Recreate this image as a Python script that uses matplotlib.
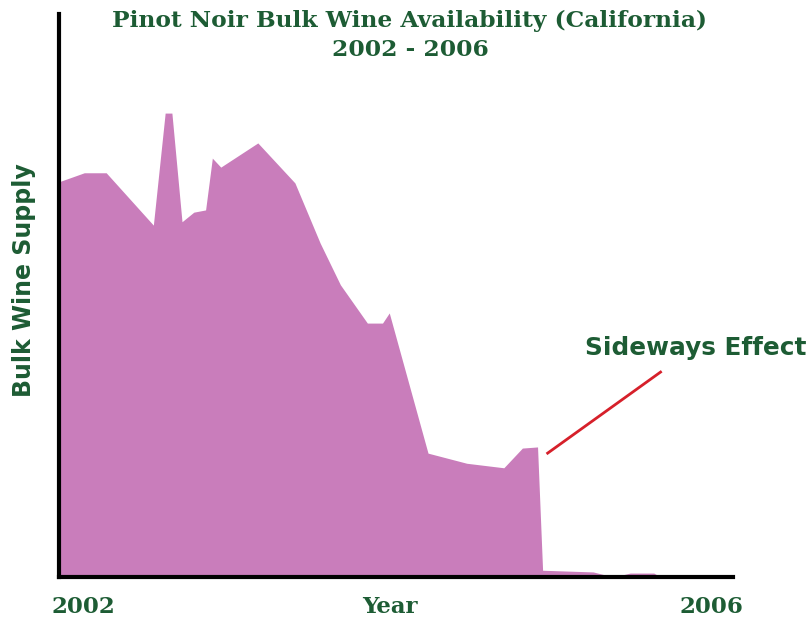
import matplotlib
matplotlib.use("Agg")
import matplotlib.pyplot as plt

# bulk supply over time (relative units, 0 = none left)
years = [2002.00, 2002.15, 2002.28, 2002.56, 2002.63, 2002.67, 2002.73, 2002.80,
         2002.87, 2002.91, 2002.96, 2003.18, 2003.40, 2003.55, 2003.67, 2003.83,
         2003.92, 2003.96, 2004.19, 2004.42, 2004.64, 2004.75, 2004.84, 2004.87,
         2005.17, 2005.29, 2005.39, 2005.53, 2005.57]
supply = [70.2, 71.8, 71.8, 62.5, 82.4, 82.4, 63.1, 64.8,
          65.2, 74.4, 72.8, 77.1, 70.0, 59.3, 51.9, 45.1,
          45.1, 46.9, 22.0, 20.2, 19.4, 22.9, 23.1, 1.2,
          0.9, 0.0, 0.7, 0.7, 0.0]

year_labels = ["2002", "Year", "2006"]
title_lines = ["Pinot Noir Bulk Wine Availability (California)", "2002 - 2006"]
note_text = "Sideways Effect"
note_from = (2004.90, 22.0)
note_to = (2005.57, 36.4)

GREEN = "#1d5c34"
FILL = "#c97dbb"

fig = plt.figure(figsize=(8.12, 6.19), dpi=100)
ax = fig.add_axes([59 / 812, 42 / 619, 674 / 812, 563 / 619])

ax.fill_between(years, supply, 0, color=FILL, linewidth=0)
ax.set_xlim(2002, 2006)
ax.set_ylim(0, 100)

for side in ["top", "right"]:
    ax.spines[side].set_visible(False)
for side in ["left", "bottom"]:
    ax.spines[side].set_linewidth(3)
    ax.spines[side].set_color("black")
    ax.spines[side].set_zorder(5)
ax.set_xticks([])
ax.set_yticks([])

# callout
ax.plot([note_from[0], note_to[0]], [note_from[1], note_to[1]],
        color="#d6202a", linewidth=2, clip_on=False)
ax.text(2005.12, 40.6, note_text, color=GREEN, fontsize=17.8, fontweight="bold",
        family="DejaVu Sans", ha="left", va="center", clip_on=False)

serif = dict(family="DejaVu Serif", fontweight="bold", color=GREEN)
fig.text(410 / 812, 1 - 21 / 619, title_lines[0], fontsize=16.8,
         ha="center", va="center", **serif)
fig.text(410 / 812, 1 - 50 / 619, title_lines[1], fontsize=16.8,
         ha="center", va="center", **serif)

for xpos, lab in zip([83, 390, 711], year_labels):
    fig.text(xpos / 812, 1 - 607 / 619, lab, fontsize=16.5,
             ha="center", va="center", **serif)

fig.text(24 / 812, 1 - 280 / 619, "Bulk Wine Supply", fontsize=17,
         fontweight="bold", family="DejaVu Sans", color=GREEN,
         rotation=90, ha="center", va="center")

fig.savefig("out.png", dpi=100)
